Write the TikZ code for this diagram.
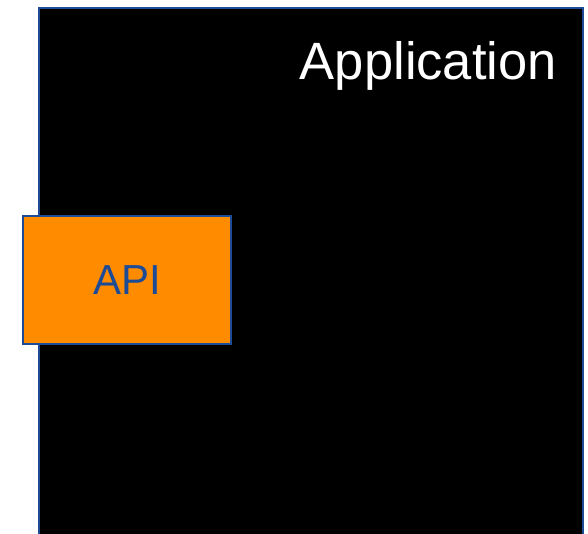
\documentclass[tikz,border=0pt]{standalone}
\usepackage{fontspec}
\setmainfont{Liberation Sans}
\definecolor{edgeblue}{RGB}{30,75,150}
\definecolor{apiorange}{RGB}{255,140,0}
\begin{document}
\begin{tikzpicture}[x=1pt,y=-1pt,
  edge/.style={draw=edgeblue,line width=2pt},
  appbox/.style={edge,fill=black},
  apibox/.style={edge,fill=apiorange}]
\useasboundingbox (0,0) rectangle (588,533);
\begin{scope}
\clip (0,0) rectangle (588,533);
% application frame, running past the lower edge
\draw[appbox] (39,8) rectangle (583,545);
\end{scope}
\node[anchor=base east,text=white,font=\fontsize{52.5}{52.5}\selectfont,inner sep=0pt] (app) at (557,79) {Application};
\draw[apibox] (23,216) rectangle (231,344);
\node[text=edgeblue,font=\fontsize{42}{42}\selectfont,inner sep=0pt,anchor=base] (api) at (127,294) {API};
\end{tikzpicture}
\end{document}
